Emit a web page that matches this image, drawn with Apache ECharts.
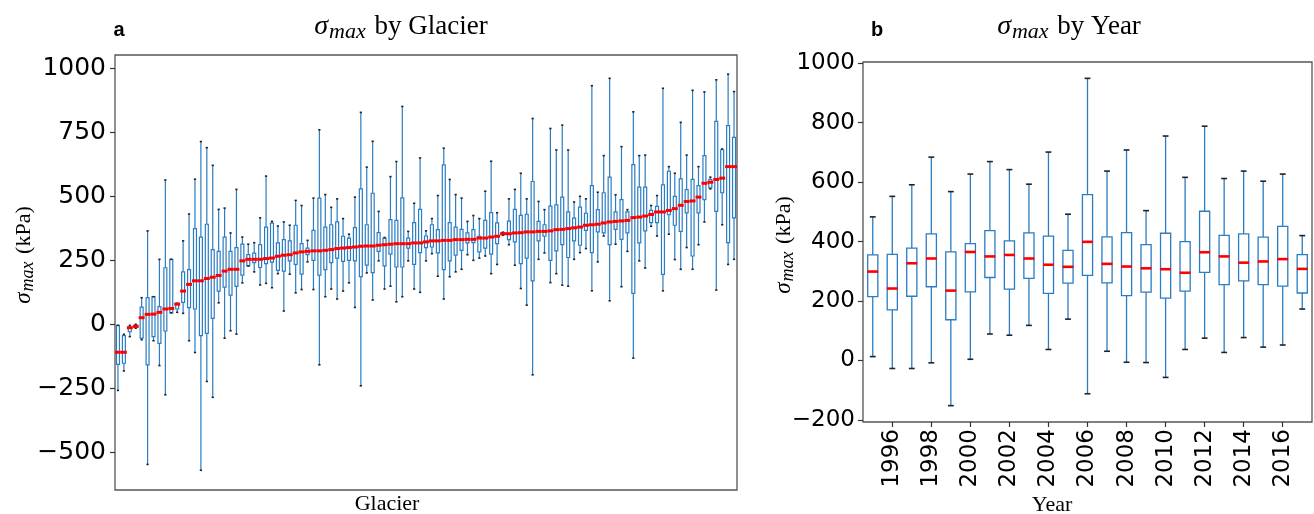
<!DOCTYPE html>
<html><head><meta charset="utf-8">
<script src="https://cdn.jsdelivr.net/npm/echarts@6/dist/echarts.min.js"></script>
<style>html,body{margin:0;padding:0;background:#fff}#c{width:1314px;height:514px}</style>
</head><body><div id="c"></div>
<script>
// ---- Panel a: sigma_max by glacier (105 glaciers, sorted by median) ----
const glacierHigh = [-4,-39,-4,0,104,365,108,254,564,254,82,326,431,567,714,690,621,449,454,357,527,341,313,319,416,579,402,384,400,387,484,464,328,493,760,507,457,490,413,352,497,828,614,715,441,339,577,636,851,363,473,650,365,413,503,688,566,507,493,402,425,413,520,637,436,360,490,527,590,490,804,480,448,765,681,778,681,478,500,490,932,516,659,961,506,694,448,830,659,661,464,503,922,616,590,789,661,914,616,908,575,955,685,977,909];
const glacierQ3 = [-4,-44,-13,-3,67,104,108,69,221,254,82,205,214,374,341,391,292,285,341,285,300,313,272,278,311,380,395,318,331,326,387,315,298,367,493,380,389,400,344,337,378,529,389,512,358,337,409,406,494,337,397,449,345,389,370,623,397,380,371,357,370,344,406,436,396,358,403,449,426,430,558,402,389,462,467,497,439,415,458,434,542,448,514,575,439,487,439,624,536,536,445,461,545,598,500,568,526,566,542,659,566,793,682,776,730];
const glacierMed = [-109,-109,-13,-8,26,39,40,47,60,62,79,130,156,170,170,179,184,191,208,215,215,248,254,254,254,257,259,266,270,272,279,283,285,287,287,289,292,296,298,300,302,305,306,306,309,311,313,315,315,315,318,318,322,326,326,328,328,331,331,332,332,337,337,341,344,354,354,357,358,361,361,363,363,365,370,371,374,377,380,387,389,391,396,400,402,404,406,417,419,423,429,439,439,445,452,465,480,482,497,551,555,566,571,616,616];
const glacierQ1 = [-156,-152,-29,-12,-54,-158,-48,-74,-26,45,60,86,65,60,-44,-35,23,130,145,114,148,192,228,241,222,237,243,211,208,248,234,196,272,250,192,214,241,259,246,250,248,186,231,202,285,228,274,224,224,298,234,280,300,302,279,214,248,270,289,318,319,283,298,274,315,350,331,322,237,259,170,326,344,250,287,311,261,326,309,367,280,361,357,311,371,332,357,121,318,365,397,397,195,428,387,363,435,267,435,487,533,441,514,319,416];
const glacierLow = [-258,-182,-48,-15,-60,-547,-64,-161,-275,45,47,43,-64,-110,-570,-223,-285,84,-54,-25,-38,162,228,205,154,160,143,198,52,196,123,136,244,136,-158,108,138,99,130,162,66,-240,201,95,248,138,149,88,108,248,138,125,248,276,188,99,186,205,215,272,250,259,267,198,234,348,311,231,140,75,-197,254,279,163,198,153,149,254,280,296,131,244,345,92,313,147,285,-132,248,220,383,345,131,352,253,215,300,215,311,400,529,134,389,234,254];
const glacierIds = glacierMed.map((_, i) => String(i + 1));
const glacierTicks = [-500, -250, 0, 250, 500, 750, 1000];

// ---- Panel b: sigma_max by year ----
const years = ['1995','1996','1997','1998','1999','2000','2001','2002','2003','2004','2005','2006','2007','2008','2009','2010','2011','2012','2013','2014','2015','2016','2017'];
const yearHigh = [483,552,591,684,568,627,669,642,593,701,492,949,637,708,504,755,616,788,612,637,603,627,420];
const yearQ3 = [355,357,378,426,365,393,437,402,429,418,370,558,416,430,390,428,400,502,421,426,415,451,356];
const yearMed = [299,242,327,343,235,365,350,355,343,322,315,399,325,316,310,307,295,364,350,329,333,341,308];
const yearQ1 = [215,170,216,248,137,231,279,240,276,226,260,286,261,218,230,210,233,296,255,268,255,250,227];
const yearLow = [13,-27,-27,-8,-152,4,89,85,118,37,139,-112,31,-6,-7,-57,37,75,27,77,45,52,173];
const yearTicks = [-200, 0, 200, 400, 600, 800, 1000];

function boxItems(lo, q1, med, q3, hi) {
  return med.map((m, i) => [i, lo[i], q1[i], m, q3[i], hi[i]]);
}
const BLUE = '#2a7dc2';
function makeRender(o) {
  return function (params, api) {
    const i = api.value(0);
    const pLo = api.coord([i, api.value(1)]);
    const pQ1 = api.coord([i, api.value(2)]);
    const pMed = api.coord([i, api.value(3)]);
    const pQ3 = api.coord([i, api.value(4)]);
    const pHi = api.coord([i, api.value(5)]);
    const band = api.size([1, 0])[0];
    const x = pLo[0];
    const bw = band * o.box, cw = band * o.cap, mw = band * o.med;
    const ls = { stroke: BLUE, lineWidth: o.lw, fill: null };
    return {
      type: 'group',
      children: [
        { type: 'line', shape: { x1: x, y1: pLo[1], x2: x, y2: pQ1[1] }, style: ls },
        { type: 'line', shape: { x1: x, y1: pQ3[1], x2: x, y2: pHi[1] }, style: ls },
        { type: 'rect', shape: { x: x - bw / 2, y: pQ3[1], width: bw, height: pQ1[1] - pQ3[1] },
          style: { stroke: BLUE, lineWidth: o.lw, fill: 'rgba(0,0,0,0)' } },
        { type: 'line', shape: { x1: x - cw / 2, y1: pLo[1], x2: x + cw / 2, y2: pLo[1] }, style: { stroke: '#222', lineWidth: o.capLw } },
        { type: 'line', shape: { x1: x - cw / 2, y1: pHi[1], x2: x + cw / 2, y2: pHi[1] }, style: { stroke: '#222', lineWidth: o.capLw } },
        { type: 'line', shape: { x1: x - mw / 2, y1: pMed[1], x2: x + mw / 2, y2: pMed[1] }, style: { stroke: '#ff0000', lineWidth: o.medLw } }
      ]
    };
  };
}
const fmt = v => (v < 0 ? '\u2212' + Math.abs(v) : String(v));
const serif = 'Liberation Serif';
const richMath = (fs) => ({
  i: { fontFamily: serif, fontStyle: 'italic', fontSize: Math.round(fs * 1.05), lineHeight: fs * 1.2, verticalAlign: 'middle', fill: '#000', padding: [0, 1, 0, 0] },
  s: { fontFamily: serif, fontStyle: 'italic', fontSize: Math.round(fs * 0.8), lineHeight: fs * 0.62, verticalAlign: 'bottom', fill: '#000', padding: [0, 2, 0, 0] },
  n: { fontFamily: serif, fontSize: fs, lineHeight: fs * 1.2, verticalAlign: 'middle', fill: '#000' }
});
function mathText(x, y, text, fs, rot) {
  return {
    type: 'text', x: x, y: y, rotation: rot || 0,
    style: { text: text, rich: richMath(fs), align: 'center', verticalAlign: 'middle', font: fs + 'px ' + serif }
  };
}
function plainText(x, y, text, fs, family, weight) {
  return { type: 'text', x: x, y: y,
    style: { text: text, fontSize: fs, fontFamily: family, fontWeight: weight || 'normal', fill: '#000', align: 'center', verticalAlign: 'middle' } };
}

const chart = echarts.init(document.getElementById('c'), null, { renderer: 'canvas' });
const axisTickStyle = { lineStyle: { color: '#333', width: 1.2 } };
chart.setOption({
  animation: false,
  backgroundColor: '#fff',
  grid: [
    { left: 115, top: 55, width: 622, height: 435, show: true, borderColor: '#555', borderWidth: 1.3, backgroundColor: 'rgba(0,0,0,0)' },
    { left: 863, top: 62, width: 449, height: 360, show: true, borderColor: '#555', borderWidth: 1.3, backgroundColor: 'rgba(0,0,0,0)' }
  ],
  xAxis: [
    { gridIndex: 0, type: 'category', data: glacierIds, boundaryGap: true,
      axisLine: { show: false, onZero: false }, axisTick: { show: false }, axisLabel: { show: false }, splitLine: { show: false } },
    { gridIndex: 1, type: 'category', data: years, boundaryGap: true,
      axisLine: { show: false, onZero: false },
      axisTick: { show: true, length: 5, alignWithLabel: true, interval: (idx) => idx % 2 === 1, ...axisTickStyle },
      axisLabel: { rotate: 90, interval: (idx) => idx % 2 === 1, fontSize: 23, fontFamily: 'DejaVu Sans', color: '#000', margin: 7 },
      splitLine: { show: false } }
  ],
  yAxis: [
    { gridIndex: 0, type: 'value', min: -647, max: 1052,
      axisLine: { show: false, onZero: false }, splitLine: { show: false },
      axisTick: { show: true, length: 5, customValues: glacierTicks, ...axisTickStyle },
      axisLabel: { customValues: glacierTicks, formatter: fmt, fontSize: 25, fontFamily: 'DejaVu Sans', color: '#000', margin: 9 } },
    { gridIndex: 1, type: 'value', min: -207, max: 1004,
      axisLine: { show: false, onZero: false }, splitLine: { show: false },
      axisTick: { show: true, length: 5, customValues: yearTicks, ...axisTickStyle },
      axisLabel: { customValues: yearTicks, formatter: fmt, fontSize: 23, fontFamily: 'DejaVu Sans', color: '#000', margin: 8 } }
  ],
  series: [
    { type: 'custom', xAxisIndex: 0, yAxisIndex: 0, clip: true,
      data: boxItems(glacierLow, glacierQ1, glacierMed, glacierQ3, glacierHigh),
      encode: { x: 0, y: [1, 2, 3, 4, 5] },
      renderItem: makeRender({ box: 0.5, cap: 0.38, med: 1.0, lw: 1.2, capLw: 1.6, medLw: 3 }) },
    { type: 'custom', xAxisIndex: 1, yAxisIndex: 1, clip: true,
      data: boxItems(yearLow, yearQ1, yearMed, yearQ3, yearHigh),
      encode: { x: 0, y: [1, 2, 3, 4, 5] },
      renderItem: makeRender({ box: 0.52, cap: 0.3, med: 0.56, lw: 1.3, capLw: 1.6, medLw: 2.6 }) }
  ],
  graphic: [
    plainText(119, 30, 'a', 20, 'Liberation Sans', 'bold'),
    plainText(877, 30, 'b', 20, 'Liberation Sans', 'bold'),
    mathText(401, 27, '{i|σ}{s|max}{n| by Glacier}', 27),
    mathText(1069, 27, '{i|σ}{s|max}{n| by Year}', 27),
    mathText(24, 255, '{i|σ}{s|max}{n| (kPa)}', 22, Math.PI / 2),
    mathText(784, 245, '{i|σ}{s|max}{n| (kPa)}', 22, Math.PI / 2),
    plainText(387, 504, 'Glacier', 22, serif),
    plainText(1052, 505, 'Year', 22, serif)
  ]
});
</script>
</body></html>
